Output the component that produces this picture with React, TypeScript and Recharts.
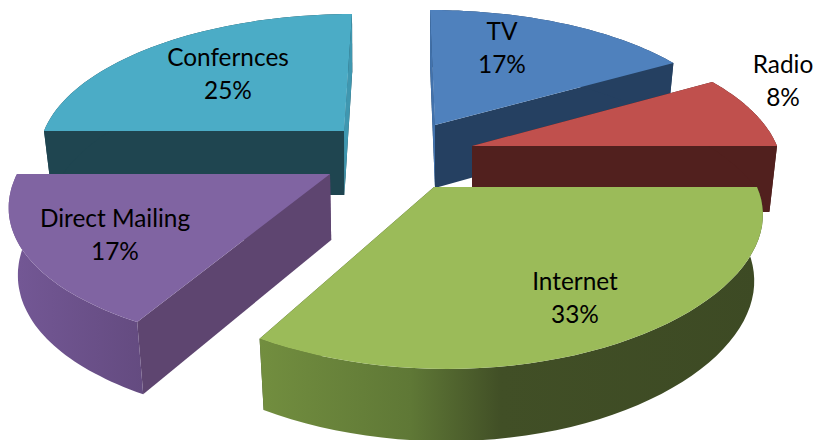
import React from 'react';
import { PieChart, Pie } from 'recharts';

const categories = ['Confernces', 'TV', 'Radio', 'Internet', 'Direct Mailing'];
const values = [3, 2, 1, 4, 2];

const chartData = categories.map((name, i) => ({ name, value: values[i] }));

// each exploded slice has its own projection of the tilted disc
// x, y: apex on screen; rx, ry: radii; p, q: perspective; skew: shear; vx: vanishing x of the walls
// sliver: thin lighter wall on top of the rest, 'start' or 'end' edge of the slice
const sliceLayout = [
  { x: 344, y: 131, rx: 300, ry: 134.5, p: 0.15, q: 0.15, skew: -8, vx: 360, depth: 64, top: '#4bacc6', wall: '#1f4550', band: '#1f4550', sliver: 'end', sliverFill: '#3f97b0', labelX: 228, labelY: 66 },
  { x: 435, y: 125, rx: 299, ry: 134.5, p: 0.17, q: 0.15, skew: 5, vx: 435, depth: 63, top: '#4f81bd', wall: '#254061', band: '#254061', sliver: 'start', sliverFill: '#4272ac', labelX: 502, labelY: 40 },
  { x: 472, y: 146, rx: 305, ry: 139, p: 0.17, q: 0.15, skew: 11, vx: 472, depth: 66, top: '#c0504d', wall: '#51201e', band: '#51201e', sliver: '', sliverFill: '', labelX: 783, labelY: 73 },
  { x: 434, y: 187, rx: 323, ry: 141.7, p: 0.2215, q: 0.15, skew: 13, vx: 418, depth: 65, top: '#9bbb59', wall: '#3f4d25', band: 'url(#internetSide)', sliver: '', sliverFill: '', labelX: 575, labelY: 290 },
  { x: 330, y: 174, rx: 313, ry: 141.3, p: 0.2, q: 0.25, skew: 8, vx: 377, depth: 66, top: '#8064a2', wall: '#5e4570', band: 'url(#mailingSide)', sliver: '', sliverFill: '', labelX: 115, labelY: 227 },
];

const DEPTH_GROW = 0.1;
const WALL_SQUEEZE = 0.975;
const LABEL_GAP = 33;

const project = (s: (typeof sliceLayout)[number], deg: number, radius: number) => {
  const t = ((90 - deg) * Math.PI) / 180;
  const a = Math.sin(t) * radius;
  const b = -Math.cos(t) * radius;
  return {
    x: s.x + (s.rx * a) / (1 - s.q * b) + s.skew * b,
    y: s.y + (s.ry * b) / (1 - s.p * b),
    drop: s.depth / (1 - DEPTH_GROW * b),
  };
};

const lower = (s: (typeof sliceLayout)[number], pt: { x: number; y: number; drop: number }) => ({
  x: s.vx + (pt.x - s.vx) * WALL_SQUEEZE,
  y: pt.y + pt.drop,
});

const toPath = (pts: { x: number; y: number }[]) =>
  pts.map((pt, i) => `${i ? 'L' : 'M'}${pt.x.toFixed(1)},${pt.y.toFixed(1)}`).join(' ') + ' Z';

const renderSlice = (props: any) => {
  const { startAngle, endAngle, index, percent, name } = props;
  const s = sliceLayout[index];
  const steps = 48;
  const arc = [];
  for (let i = 0; i <= steps; i++) {
    arc.push(project(s, startAngle + ((endAngle - startAngle) * i) / steps, 1));
  }
  const apex = project(s, 0, 0);
  const first = arc[0];
  const last = arc[steps];
  const wallPath = (pt: { x: number; y: number; drop: number }) =>
    toPath([apex, pt, lower(s, pt), lower(s, apex)]);
  const pct = `${Math.round(percent * 100)}%`;
  return (
    <g>
      <path d={wallPath(first)} fill={s.wall} />
      <path d={wallPath(last)} fill={s.wall} />
      <path d={toPath([...arc, ...arc.slice().reverse().map((pt) => lower(s, pt))])} fill={s.band} />
      {s.sliver && <path d={wallPath(s.sliver === 'end' ? last : first)} fill={s.sliverFill} />}
      <path d={toPath([apex, ...arc])} fill={s.top} />
      <text
        textAnchor="middle"
        fontFamily="Lato, 'Open Sans', sans-serif"
        fontSize={24.4}
        fill="#000000"
      >
        <tspan x={s.labelX} y={s.labelY}>{name}</tspan>
        <tspan x={s.labelX} y={s.labelY + LABEL_GAP}>{pct}</tspan>
      </text>
    </g>
  );
};

export default function App() {
  return (
    <div style={{ position: 'fixed', left: 0, top: 0, width: 817, height: 440, background: '#ffffff' }}>
      <PieChart width={817} height={440} margin={{ top: 0, right: 0, bottom: 0, left: 0 }}>
        <defs>
          <linearGradient id="internetSide" x1="0" y1="0" x2="1" y2="0">
            <stop offset="0%" stopColor="#728e3f" />
            <stop offset="30%" stopColor="#5f7836" />
            <stop offset="48%" stopColor="#414f26" />
            <stop offset="100%" stopColor="#3d4a24" />
          </linearGradient>
          <linearGradient id="mailingSide" x1="0" y1="0" x2="1" y2="0">
            <stop offset="0%" stopColor="#745896" />
            <stop offset="100%" stopColor="#644b80" />
          </linearGradient>
        </defs>
        <Pie
          data={chartData}
          dataKey="value"
          nameKey="name"
          cx={400}
          cy={220}
          outerRadius={150}
          startAngle={180}
          endAngle={-180}
          paddingAngle={0}
          stroke="none"
          shape={renderSlice}
          isAnimationActive={false}
        />
      </PieChart>
    </div>
  );
}
